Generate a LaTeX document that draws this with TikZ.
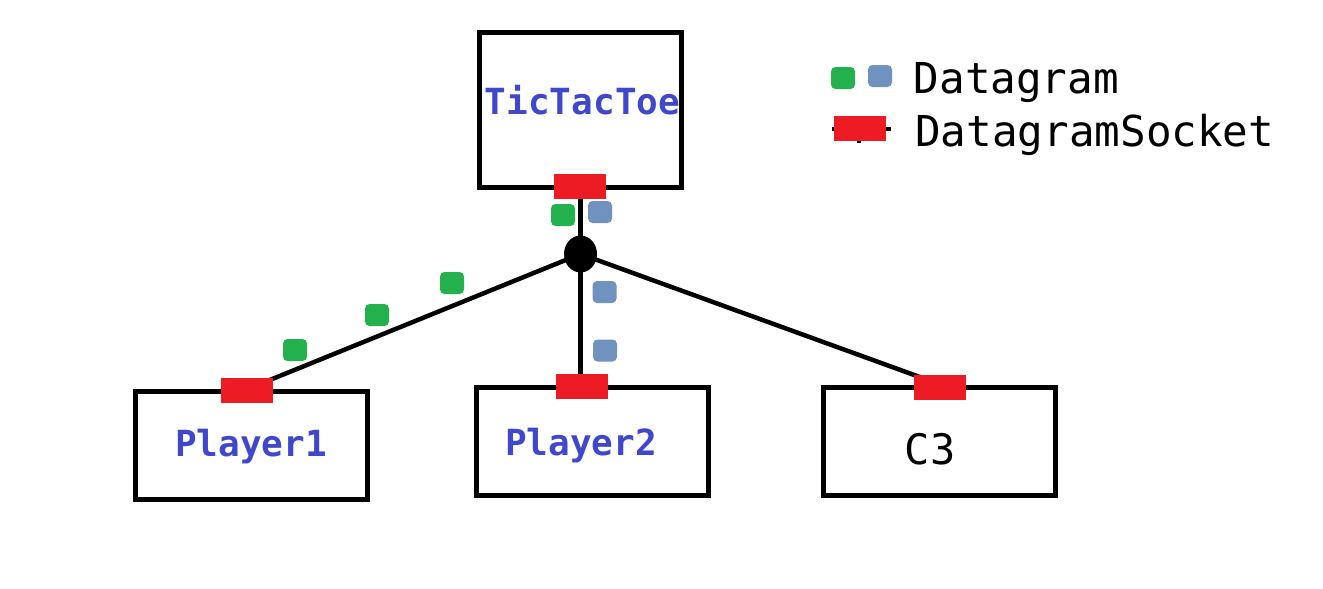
\documentclass[tikz,border=0pt]{standalone}
\usepackage{fontspec}
\usetikzlibrary{shapes.geometric}
\newfontfamily\monofnt{DejaVu Sans Mono}
\definecolor{pgreen}{HTML}{22B14C}
\definecolor{pblue}{HTML}{7092BE}
\definecolor{pred}{HTML}{ED1C24}
\definecolor{ptext}{HTML}{3F48CC}
\begin{document}
\begin{tikzpicture}[x=1pt,y=-1pt,
  box/.style={draw=black, line width=5pt, rectangle, inner sep=0pt, outer sep=0pt},
  sock/.style={fill=pred, rectangle, inner sep=0pt, outer sep=0pt, minimum width=52pt, minimum height=25pt},
  dgram/.style={rectangle, rounded corners=4.5pt, inner sep=0pt, outer sep=0pt, minimum width=24pt, minimum height=22pt},
  gdot/.style={dgram, fill=pgreen},
  bdot/.style={dgram, fill=pblue},
  wire/.style={draw=black, line width=4.5pt},
  blabel/.style={anchor=base, inner sep=0pt, text=ptext, font=\monofnt\bfseries\fontsize{36}{40}\selectfont},
  plabel/.style={anchor=base, inner sep=0pt, text=black, font=\monofnt\fontsize{42}{46}\selectfont},
  llabel/.style={anchor=base west, inner sep=0pt, text=black, font=\monofnt\fontsize{42.6}{46}\selectfont}]
\useasboundingbox (0,0) rectangle (1323,589);

% boxes
\node[box, minimum width=201.5pt, minimum height=154.5pt] (ttt) at (580.25,109.75) {};
\node[box, minimum width=232pt, minimum height=108pt] (p1) at (251.5,445.5) {};
\node[box, minimum width=231.8pt, minimum height=107.3pt] (p2) at (592.4,441.35) {};
\node[box, minimum width=231.5pt, minimum height=107.5pt] (c3) at (939.25,441.25) {};

% labels
\node[blabel] (tttl) at (582.5,114.3) {TicTacToe};
\node[blabel] (p1l) at (251,456.7) {Player1};
\node[blabel] (p2l) at (581,455.7) {Player2};
\node[plabel] (c3l) at (930,464.3) {C3};

% hub
\node[ellipse, fill=black, inner sep=0pt, minimum width=33pt, minimum height=37pt] (hub) at (580.5,254) {};

% wire end points (behind sockets)
\coordinate (e0) at (580.5,190);
\coordinate (e1) at (255,386);
\coordinate (e2) at (580.5,385);
\coordinate (e3) at (928,380);

\draw[wire] (hub.center) -- (e0);
\draw[wire] (hub.center) -- (e1);
\draw[wire] (hub.center) -- (e2);
\draw[wire] (hub.center) -- (e3);

% sockets
\node[sock] (s0) at (580,186.5) {};
\node[sock] (s1) at (247,390.5) {};
\node[sock, minimum height=24.7pt] (s2) at (582,386.3) {};
\node[sock, minimum height=24.7pt] (s3) at (940,387.3) {};

% datagrams
\node[gdot] (g0) at (563,215) {};
\node[gdot] (g1) at (452,283) {};
\node[gdot] (g2) at (377,315) {};
\node[gdot] (g3) at (295,350) {};
\node[bdot] (b0) at (600,212) {};
\node[bdot] (b1) at (604.5,292) {};
\node[bdot] (b2) at (605,350.5) {};

% legend
\node[gdot] (lg) at (843,78) {};
\node[bdot] (lb) at (880,76) {};
\node[llabel] (ld) at (913.5,93.3) {Datagram};
\coordinate (la) at (832,129);
\coordinate (lc) at (891,129);
\coordinate (lt) at (859,143);
\coordinate (ltt) at (859,129);
\draw[wire, line width=3.5pt] (la) -- (lc);
\draw[wire, line width=3.5pt] (ltt) -- (lt);
\node[sock, minimum height=24.7pt] (ls) at (860,128.3) {};
\node[llabel] (lds) at (915,146.7) {DatagramSocket};
\end{tikzpicture}
\end{document}
